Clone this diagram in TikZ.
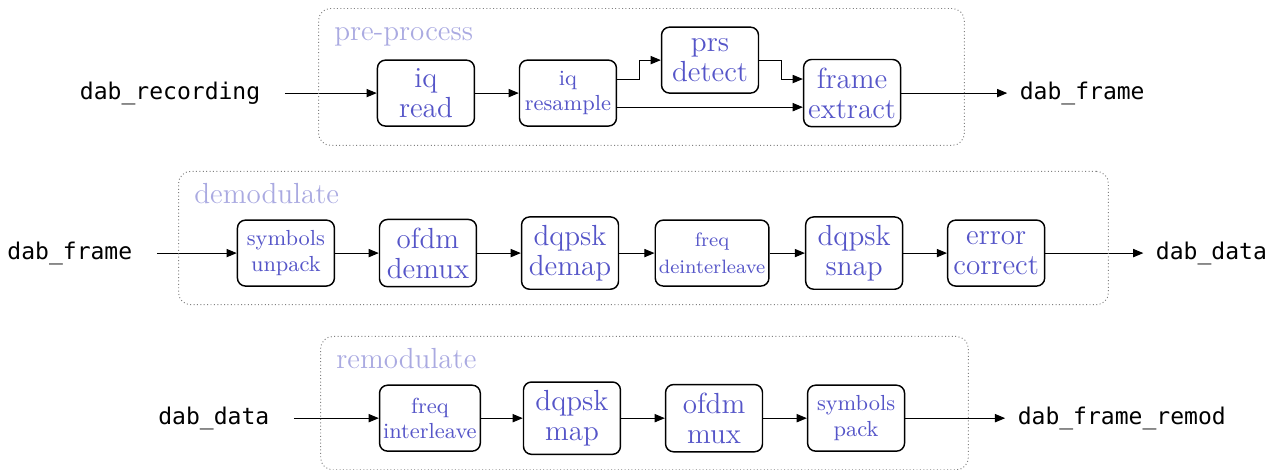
\documentclass[tikz,border=0pt]{standalone}
\usepackage{fontspec}
\setmonofont{DejaVu Sans Mono}
\usetikzlibrary{positioning,fit,arrows.meta}
\definecolor{blocktext}{RGB}{85,85,200}
\definecolor{grouptext}{RGB}{170,170,225}
\tikzset{
  block/.style={draw, rounded corners=3.3pt, line width=0.6pt, text=blocktext,
    align=center, minimum width=40pt, minimum height=27.2pt, inner xsep=1.5pt,
    font=\fontsize{12}{12.5}\selectfont},
  small block/.style={block, font=\fontsize{9}{10.5}\selectfont},
  tiny block/.style={block, font=\fontsize{8}{11}\selectfont},
  iolabel/.style={inner sep=0pt, font=\fontsize{9.5}{11}\ttfamily},
  group/.style={draw=gray, densely dotted, rounded corners=5pt, inner xsep=25pt,
    inner ysep=7.4pt, xshift=1pt},
  grouplabel/.style={inner sep=0pt, text=grouptext, anchor=base west, font=\large},
  flow/.style={->, line width=0.4pt},
  >={Triangle[length=4.2pt,width=3.4pt]}
}
\begin{document}
\begin{tikzpicture}[on grid, node distance=58.6pt]
  \useasboundingbox (-175.7pt,38.4pt) rectangle (351.5pt,-155.1pt);

  % pre-process
  \node[block] (read) at (0,0) {iq\\read};
  \node[small block, right=of read] (resample) {iq\\resample};
  \node[block, above right=13.6pt and 58.6pt of resample] (prs) {prs\\detect};
  \node[block, below right=13.6pt and 58.6pt of prs] (extract) {frame\\extract};
  \node[iolabel, anchor=east] (rec) at ([xshift=-47.85pt]read.west) {dab\_recording};
  \node[iolabel, anchor=west] (frameout) at ([xshift=48.7pt]extract.east) {dab\_frame};

  \draw[flow, shorten <=10pt] (rec.east) -- (read);
  \draw[flow] (read) -- (resample);
  \draw[flow] ([yshift=5.8pt]resample.east) -- ++(9pt,0) |- (prs.west);
  \draw[flow] (prs.east) -- ++(9pt,0) |- ([yshift=5.8pt]extract.west);
  \draw[flow] ([yshift=-5.8pt]resample.east) -- ([yshift=-5.8pt]extract.west);
  \draw[flow, shorten >=5pt] (extract) -- (frameout.west);

  \node[group, fit=(read)(prs)(extract)] (pregrp) {};
  \node[grouplabel] (prelbl) at ([xshift=6.5pt,yshift=-13.5pt]pregrp.north west) {pre-process};

  % demodulate
  \node[small block] (unpack) at (-57.75pt,-66pt) {symbols\\unpack};
  \node[block, right=of unpack] (demux) {ofdm\\demux};
  \node[block, right=of demux] (demap) {dqpsk\\demap};
  \node[tiny block, right=of demap] (deintl) {freq\\deinterleave};
  \node[block, right=of deintl] (snap) {dqpsk\\snap};
  \node[block, right=of snap] (correct) {error\\correct};
  \node[iolabel, anchor=east] (framein) at ([xshift=-42.9pt]unpack.west) {dab\_frame};
  \node[iolabel, anchor=west] (dataout) at ([xshift=45.4pt]correct.east) {dab\_data};

  \draw[flow, shorten <=10pt] (framein.east) -- (unpack);
  \foreach \a/\b in {unpack/demux, demux/demap, demap/deintl, deintl/snap, snap/correct}
    \draw[flow] (\a) -- (\b);
  \draw[flow, shorten >=5pt] (correct) -- (dataout.west);

  \coordinate (demodtop) at ([yshift=12.4pt]unpack.north);
  \node[group, fit=(demodtop)(unpack)(correct)] (demodgrp) {};
  \node[grouplabel] (demodlbl) at ([xshift=6.5pt,yshift=-13.5pt]demodgrp.north west) {demodulate};

  % remodulate
  \node[small block] (intl) at (1.65pt,-134.1pt) {freq\\interleave};
  \node[block, right=of intl] (map) {dqpsk\\map};
  \node[block, right=of map] (mux) {ofdm\\mux};
  \node[small block, right=of mux] (pack) {symbols\\pack};
  \node[iolabel, anchor=east] (datain) at ([xshift=-45pt]intl.west) {dab\_data};
  \node[iolabel, anchor=west] (remodout) at ([xshift=46.2pt]pack.east) {dab\_frame\_remod};

  \draw[flow, shorten <=10pt] (datain.east) -- (intl);
  \foreach \a/\b in {intl/map, map/mux, mux/pack}
    \draw[flow] (\a) -- (\b);
  \draw[flow, shorten >=5pt] (pack) -- (remodout.west);

  \coordinate (remodtop) at ([yshift=12.4pt]intl.north);
  \node[group, fit=(remodtop)(intl)(pack)] (remodgrp) {};
  \node[grouplabel] (remodlbl) at ([xshift=6.5pt,yshift=-13.5pt]remodgrp.north west) {remodulate};
\end{tikzpicture}
\end{document}
